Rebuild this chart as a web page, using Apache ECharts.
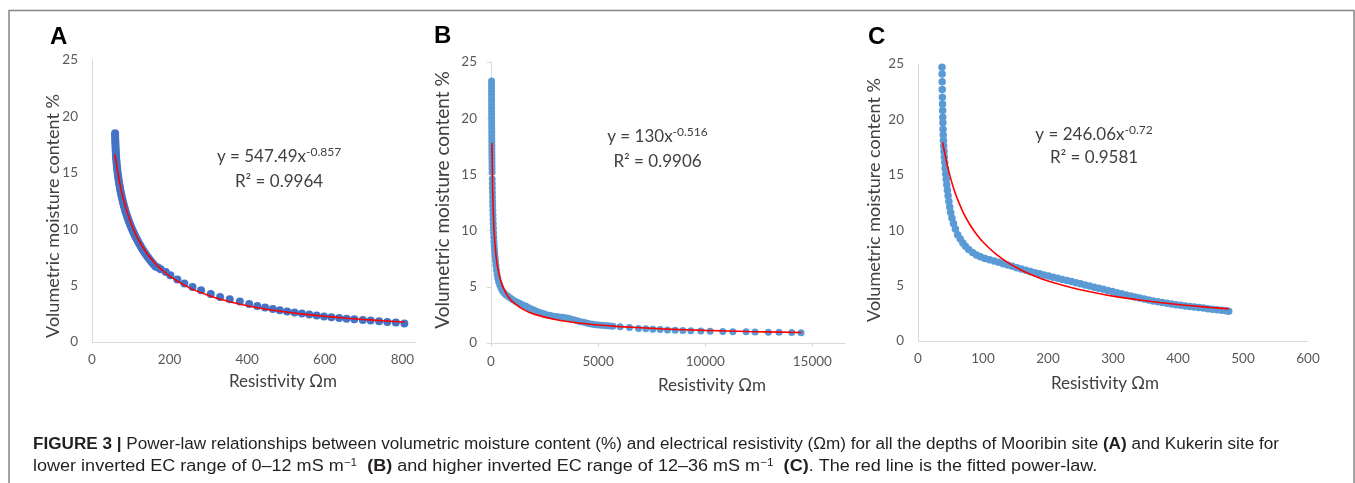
<!DOCTYPE html>
<html><head><meta charset="utf-8">
<script src="https://cdn.jsdelivr.net/npm/echarts@6/dist/echarts.min.js"></script>
<style>html,body{margin:0;padding:0;background:#fff;}#c{width:1355px;height:483px;}</style>
</head><body><div id="c"></div>
<script>
// ---------- Panel A (Mooribin) ----------
const aResistivity = [59.5,59.6,59.8,60,60.2,60.4,60.6,60.9,61.2,61.5,
  61.9,62.3,62.8,63.3,63.8,64.4,65,65.7,66.4,67.2,
  68,68.9,69.8,70.8,71.8,72.9,74,75.2,76.5,77.8,
  79.2,80.6,82.1,83.7,85.4,87.1,89,90.9,92.9,95,
  97.2,99.5,101.9,104.4,107,109.7,112.5,115.5,118.6,121.8,
  125.2,128.7,132.4,136.3,140.3,144.5,149,153.6,158.5,163.6,
  170,177,190,202,220,238,259,281,306,330,
  355,381,405,426,446,466,484,503,522,541,
  560,579,598,617,637,656,676,698,718,740,
  761,783,805];
const aMoisture = [18.5,18.3,18.1,17.9,17.7,17.5,17.3,17.1,16.9,16.7,
  16.5,16.3,16.1,15.9,15.7,15.5,15.3,15.1,14.9,14.7,
  14.5,14.3,14.1,13.9,13.7,13.5,13.3,13.1,12.9,12.7,
  12.5,12.3,12.1,11.9,11.7,11.5,11.3,11.1,10.9,10.7,
  10.5,10.3,10.1,9.9,9.7,9.5,9.3,9.1,8.9,8.7,
  8.5,8.3,8.1,7.9,7.7,7.5,7.3,7.1,6.9,6.7,
  6.6,6.45,6.2,5.92,5.53,5.18,4.88,4.59,4.26,3.99,
  3.79,3.58,3.37,3.2,3.05,2.93,2.81,2.7,2.61,2.52,
  2.43,2.34,2.25,2.19,2.13,2.07,2.01,1.95,1.9,1.84,
  1.78,1.72,1.63];
const aFitX = [59,62,65,70,75,80,90,100,110,120,140,160,180,200,250,300,350,400,450,500,550,600,650,700,750,805];
const aFitY = [16.63,15.93,15.30,14.36,13.53,12.81,11.58,10.58,9.75,9.05,7.93,7.07,6.39,5.84,4.82,4.13,3.62,3.22,2.91,2.66,2.45,2.28,2.13,2.00,1.88,1.77];
const aXTicks = [0,200,400,600,800];

// ---------- Panel B (Kukerin, 0-12 mS/m) ----------
const bResistivity = [25,25,26,26,27,27,28,28,29,29,30,31,32,33,34,35,36,37,38,39,40,41,43,44,46,48,50,52,
  58,61,64,68,72,76,81,86,92,98,105,112,120,129,139,150,163,177,193,211,
  232,256,284,318,358,405,460,525,600,690,790,900,1020,1150,1280,1400,1520,1640,1760,1880,
  2000,2120,2250,2380,2500,2640,2780,2920,3060,3200,3340,3480,3620,3760,3900,4040,4180,4320,4460,4600,
  4740,4880,5020,5160,5300,5440,5560,
  5690,6031,6466,6886,7228,7555,7897,8239,8596,8954,9327,9793,10228,10818,11287,11908,12327,12948,13446,14038,14473];
const bMoisture = [23.3,23.0,22.7,22.4,22.1,21.8,21.5,21.2,20.9,20.6,20.3,20.0,19.7,19.4,19.1,18.8,18.5,18.2,17.9,17.6,17.3,17.0,16.7,16.4,16.1,15.8,15.5,15.2,
  14.6,14.2,13.8,13.4,13.0,12.6,12.2,11.8,11.4,11.0,10.6,10.2,9.8,9.4,9.0,8.7,8.35,8.0,7.65,7.3,
  6.9,6.5,6.1,5.75,5.45,5.18,4.92,4.68,4.47,4.3,4.15,4.0,3.85,3.7,3.57,3.46,3.36,3.26,3.14,3.03,
  2.93,2.83,2.74,2.65,2.57,2.5,2.44,2.39,2.35,2.31,2.28,2.25,2.2,2.12,2.04,1.97,1.9,1.84,1.78,1.72,
  1.67,1.63,1.6,1.57,1.55,1.53,1.51,
  1.48,1.45,1.38,1.3,1.26,1.22,1.19,1.16,1.13,1.11,1.09,1.07,1.05,1.03,1.01,0.99,0.98,0.96,0.95,0.93,0.92];
const bFitX = [47,50,55,60,70,80,100,125,150,200,250,300,400,500,600,800,1000,1500,2000,3000,4000,5000,6000,8000,10000,12000,14500];
const bFitY = [17.8,17.27,16.44,15.72,14.52,13.55,12.08,10.76,9.80,8.44,7.53,6.85,5.91,5.26,4.79,4.13,3.68,2.99,2.57,2.09,1.80,1.60,1.46,1.26,1.12,1.02,0.93];
const bXTicks = [0,5000,10000,15000];

// ---------- Panel C (Kukerin, 12-36 mS/m) ----------
const cResistivity = [37,37.1,37.2,37.3,37.5,37.7,37.9,38.1,38.3,38.5,
  38.8,39.1,39.5,40,40.5,41.1,41.8,42.6,43.4,44.3,
  45.3,46.3,47.5,48.8,50.3,52.2,54.5,57.5,61,65,
  69,73,78,84,90,96,103,110,117,124,
  131,138,145,152,159,166,173,180,187,194,
  201,208,215,222,229,236,243,250,257,264,
  271,278,285,292,299,306,313,320,327,334,
  341,348,355,362,369,376,383,390,397,404,
  411,418,425,432,439,446,453,460,467,474,478];
const cMoisture = [24.7,24.1,23.4,22.7,22.0,21.4,20.8,20.2,19.7,19.1,
  18.6,18.1,17.6,17.1,16.6,16.1,15.6,15.1,14.6,14.1,
  13.6,13.1,12.6,12.1,11.6,11.1,10.6,10.1,9.6,9.2,
  8.85,8.55,8.25,7.98,7.76,7.6,7.45,7.33,7.22,7.1,
  6.98,6.86,6.74,6.62,6.5,6.38,6.27,6.16,6.06,5.96,
  5.86,5.76,5.66,5.56,5.46,5.36,5.26,5.16,5.06,4.96,
  4.86,4.76,4.66,4.56,4.46,4.36,4.26,4.16,4.06,3.96,
  3.87,3.78,3.7,3.62,3.55,3.48,3.41,3.34,3.28,3.22,
  3.17,3.12,3.07,3.02,2.97,2.92,2.87,2.82,2.77,2.72,2.68];
const cFitX = [38,40,45,50,55,60,70,80,90,100,120,140,160,180,200,250,300,350,400,450,478];
const cFitY = [17.93,17.28,15.88,14.72,13.74,12.91,11.55,10.49,9.64,8.93,7.83,7.01,6.37,5.85,5.42,4.62,4.05,3.63,3.29,3.03,2.90];
const cXTicks = [0,100,200,300,400,500,600];

const yTicks = [0,5,10,15,20,25];
const panelLetters = ['A','B','C'];
const equations = [['y = 547.49x','-0.857','R² = 0.9964'],['y = 130x','-0.516','R² = 0.9906'],['y = 246.06x','-0.72','R² = 0.9581']];
const yTitle = 'Volumetric moisture content %';
const xTitle = 'Resistivity Ωm';

const zip = (xs, ys) => xs.map((x, i) => [x, ys[i]]);

const FONT = 'Lato, "Open Sans", sans-serif';
const gridsPx = [
  {left: 92, top: 60, width: 324, height: 282},
  {left: 491, top: 62, width: 354, height: 281},
  {left: 918, top: 64, width: 390, height: 277}
];
const xMax = [835, 16525, 600];
const xTickSets = [aXTicks, bXTicks, cXTicks];
const showTicks = [false, true, false];

const xAxes = gridsPx.map((g, i) => ({
  type: 'value', gridIndex: i, min: 0, max: xMax[i],
  axisLine: {show: true, lineStyle: {color: '#d9d9d9', width: 1}},
  axisTick: {show: showTicks[i], customValues: xTickSets[i], length: 4, lineStyle: {color: '#d9d9d9'}},
  splitLine: {show: false},
  axisLabel: {customValues: xTickSets[i], formatter: v => String(v), color: '#595959', fontSize: 13.5, fontFamily: FONT, margin: i === 1 ? 12 : 11}
}));
const yAxes = gridsPx.map((g, i) => ({
  type: 'value', gridIndex: i, min: 0, max: 25, interval: 5,
  axisLine: {show: true, lineStyle: {color: '#d9d9d9', width: 1}},
  axisTick: {show: showTicks[i], length: 4, lineStyle: {color: '#d9d9d9'}},
  splitLine: {show: false},
  axisLabel: {formatter: v => String(v), color: '#595959', fontSize: 13.5, fontFamily: FONT, margin: 14}
}));

const scatterColors = ['#4472C4', '#5B9BD5', '#5B9BD5'];
const scatterSizes = [8, 7, 7.5];
const dataSets = [
  [zip(aResistivity, aMoisture), zip(aFitX, aFitY)],
  [zip(bResistivity, bMoisture), zip(bFitX, bFitY)],
  [zip(cResistivity, cMoisture), zip(cFitX, cFitY)]
];
const series = [];
dataSets.forEach((d, i) => {
  series.push({type: 'scatter', xAxisIndex: i, yAxisIndex: i, data: d[0], symbolSize: scatterSizes[i],
    itemStyle: {color: scatterColors[i], opacity: 1}, z: 2});
  series.push({type: 'line', xAxisIndex: i, yAxisIndex: i, data: d[1], smooth: 0.4, showSymbol: false, symbol: 'none',
    lineStyle: {color: '#FF0000', width: 1.6}, z: 3});
});

// text layout
const letterPos = [[50, 37], [434, 36], [868, 37]];
const yTitlePos = [[53, 216], [443, 200], [874, 200]];
const yTitleSize = [18, 19, 18];
const xTitlePos = [[283, 381.5], [712, 385.5], [1105, 384]];
const eqPos = [[279, 157, 182], [657.5, 137, 162], [1094, 134.5, 158]];

const graphics = [];
graphics.push({type: 'rect', shape: {x: 9, y: 10.5, width: 1345, height: 520},
  style: {fill: 'none', stroke: '#858585', lineWidth: 1.5}, silent: true});
panelLetters.forEach((L, i) => {
  graphics.push({type: 'text', x: letterPos[i][0], y: letterPos[i][1],
    style: {text: L, fontSize: 24, fontWeight: 'bold', fontFamily: '"Liberation Sans", Arial, sans-serif', fill: '#000', textAlign: 'left', textVerticalAlign: 'middle'}});
  graphics.push({type: 'text', x: yTitlePos[i][0], y: yTitlePos[i][1], rotation: Math.PI / 2,
    style: {text: yTitle, fontSize: yTitleSize[i], fontFamily: FONT, fill: '#404040', textAlign: 'center', textVerticalAlign: 'middle'}});
  graphics.push({type: 'text', x: xTitlePos[i][0], y: xTitlePos[i][1],
    style: {text: xTitle, fontSize: 17, fontFamily: FONT, fill: '#404040', textAlign: 'center', textVerticalAlign: 'middle'}});
  const eq = equations[i];
  graphics.push({type: 'text', x: eqPos[i][0], y: eqPos[i][1],
    style: {text: '{m|' + eq[0] + '}{s|' + eq[1] + '}', textAlign: 'center', textVerticalAlign: 'middle',
      rich: {m: {fontSize: 17, fontFamily: FONT, fill: '#404040', lineHeight: 21},
             s: {fontSize: 12, fontFamily: FONT, fill: '#404040', lineHeight: 12, verticalAlign: 'top'}}}});
  graphics.push({type: 'text', x: eqPos[i][0], y: eqPos[i][2],
    style: {text: eq[2], fontSize: 17, fontFamily: FONT, fill: '#404040', textAlign: 'center', textVerticalAlign: 'middle'}});
});

// caption
const CAP = '"Liberation Sans", Arial, sans-serif';
const capRich = {
  b: {fontSize: 16, fontWeight: 'bold', fontFamily: CAP, fill: '#231f20', lineHeight: 19},
  n: {fontSize: 16, fontFamily: CAP, fill: '#231f20', lineHeight: 19},
  s: {fontSize: 10.5, fontFamily: CAP, fill: '#231f20', lineHeight: 11, verticalAlign: 'top'}
};
const capLine1 = '{b|FIGURE 3 |}{n| Power-law relationships between volumetric moisture content (%) and electrical resistivity (Ωm) for all the depths of Mooribin site }{b|(A)}{n| and Kukerin site for}';
const capLine2 = '{n|lower inverted EC range of 0–12 mS m}{s|−1}{n|  }{b|(B)}{n| and higher inverted EC range of 12–36 mS m}{s|−1}{n|  }{b|(C)}{n|. The red line is the fitted power-law.}';
graphics.push({type: 'text', x: 33, y: 445, scaleX: 1.07, style: {text: capLine1, rich: capRich, textAlign: 'left', textVerticalAlign: 'middle'}});
graphics.push({type: 'text', x: 33, y: 467, scaleX: 1.127, style: {text: capLine2, rich: capRich, textAlign: 'left', textVerticalAlign: 'middle'}});

const chart = echarts.init(document.getElementById('c'), null, {renderer: 'canvas'});
chart.setOption({
  animation: false,
  backgroundColor: '#ffffff',
  grid: gridsPx.map(g => Object.assign({containLabel: false}, g)),
  xAxis: xAxes,
  yAxis: yAxes,
  series: series,
  graphic: {elements: graphics}
});
</script>
</body></html>
